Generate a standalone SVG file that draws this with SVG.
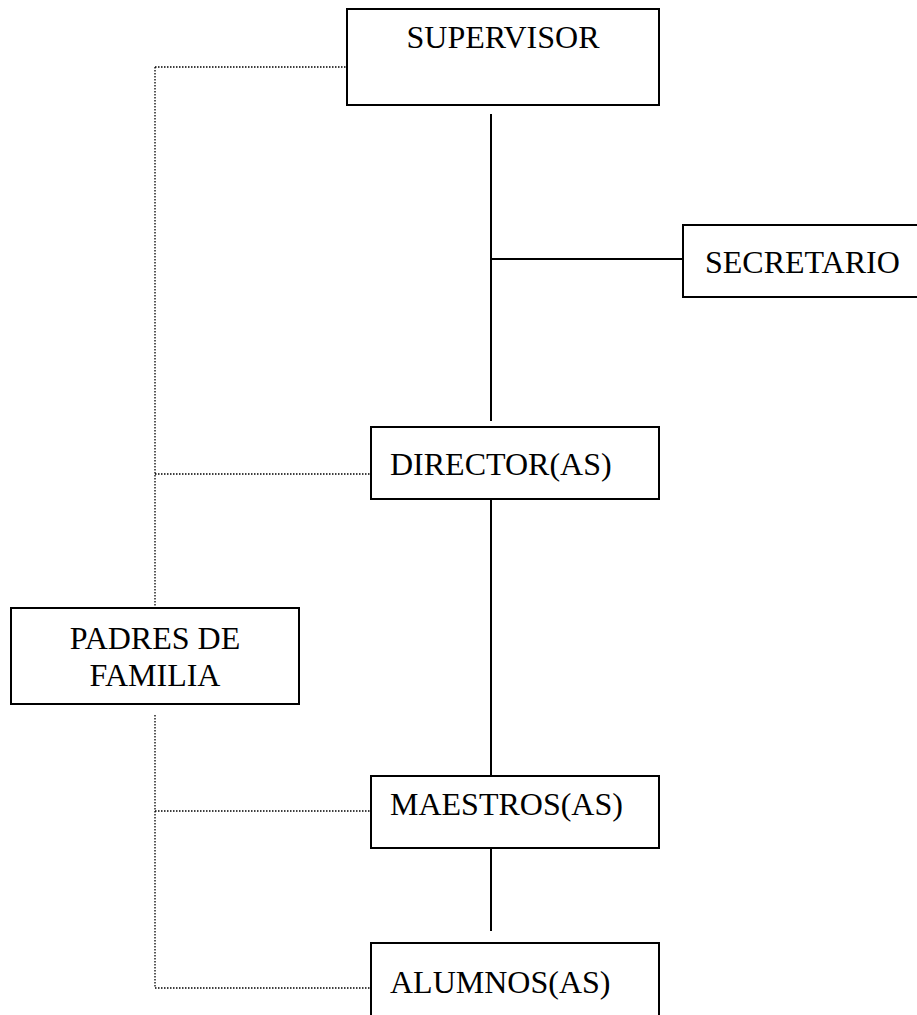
<svg xmlns="http://www.w3.org/2000/svg" width="917" height="1015" viewBox="0 0 917 1015">
<style>
.box{fill:#fff;stroke:#000;stroke-width:2}
.t{font-family:"Liberation Serif","Times New Roman",serif;font-size:32px;fill:#000}
.c{text-anchor:middle}
.solid{stroke:#000;stroke-width:2;fill:none}
.dot{stroke:#000;stroke-width:1.3;fill:none;stroke-dasharray:1.5 1.5}
</style>
<rect width="917" height="1015" fill="#fff"/>
<g id="connectors">
<path class="solid" d="M491 114V421M491 259H683M491 499V776M491 848V931"/>
<path class="dot" d="M155 67H347M155 67V608M155 474H371M155 715V988H371M155 811H371"/>
</g>
<g id="supervisor"><rect class="box" x="347" y="9" width="312" height="96"/><text class="t c" x="503" y="48">SUPERVISOR</text></g>
<g id="secretario"><rect class="box" x="683" y="225" width="240" height="72"/><text class="t" x="705" y="273">SECRETARIO</text></g>
<g id="director"><rect class="box" x="371" y="427" width="288" height="72"/><text class="t" x="390" y="475">DIRECTOR(AS)</text></g>
<g id="padres"><rect class="box" x="11" y="608" width="288" height="96"/><text class="t c" x="155" y="649">PADRES DE</text><text class="t c" x="155" y="686">FAMILIA</text></g>
<g id="maestros"><rect class="box" x="371" y="776" width="288" height="72"/><text class="t" x="390" y="815">MAESTROS(AS)</text></g>
<g id="alumnos"><rect class="box" x="371" y="943" width="288" height="100"/><text class="t" x="390" y="993">ALUMNOS(AS)</text></g>
</svg>
